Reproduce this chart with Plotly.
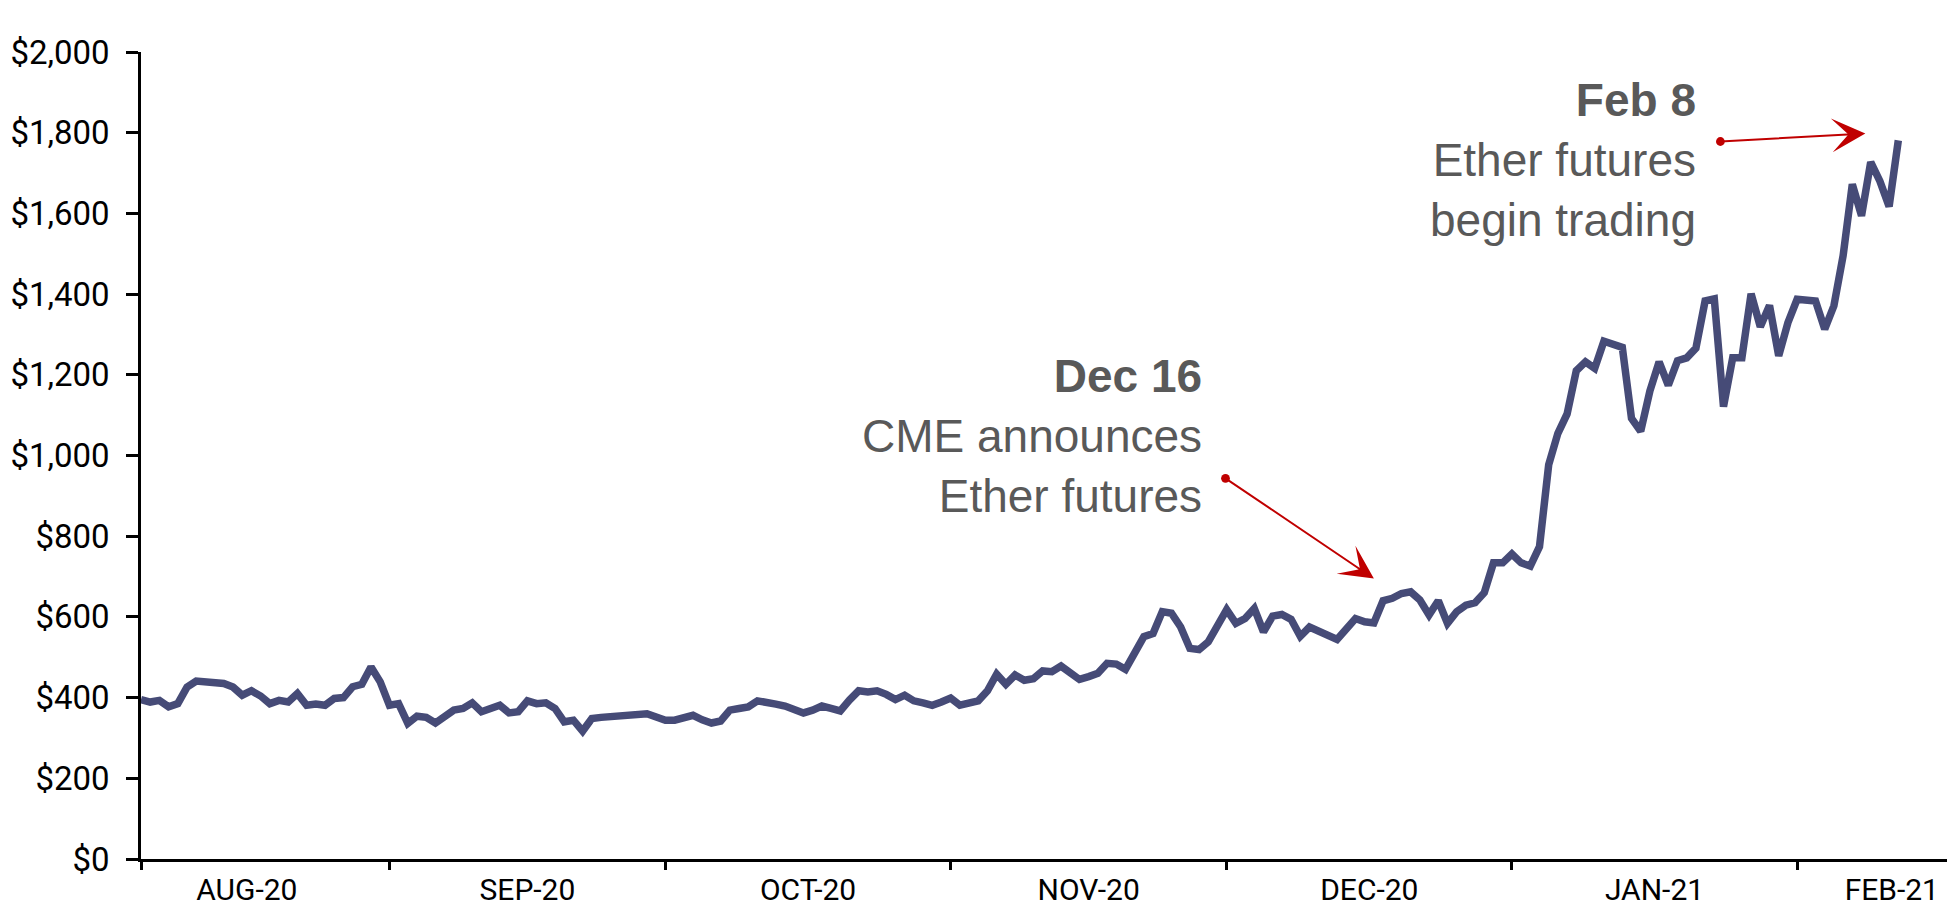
import pandas as pd
import plotly.graph_objects as go

# Ether price (USD), daily
START_DATE = "2020-08-05"
ETH_PRICE = [
    395, 389, 393, 377, 385, 426, 441, 438, 435, 435,
    426, 406, 417, 404, 385, 393, 389, 410, 381, 384,
    381, 398, 400, 427, 433, 476, 439, 381, 385, 336,
    354, 351, 337, 352, 369, 373, 387, 365, 374, 381,
    362, 365, 392, 385, 387, 373, 340, 344, 317, 348,
    351, 353, 357, 355, 359, 360, 352, 344, 344, 348,
    356, 345, 337, 342, 369, 373, 377, 392, 386, 384,
    379, 372, 362, 369, 379, 373, 367, 394, 417, 414,
    417, 408, 395, 406, 392, 387, 381, 389, 399, 381,
    385, 392, 417, 458, 433, 456, 443, 447, 466, 464,
    478, 460, 445, 452, 460, 485, 483, 470, 510, 551,
    559, 613, 609, 575, 522, 519, 538, 578, 618, 584,
    596, 621, 563, 602, 606, 594, 552, 575, 566, 556,
    544, 570, 596, 588, 585, 640, 646, 658, 662, 642,
    605, 640, 584, 613, 629, 635, 660, 734, 734, 756,
    734, 726, 774, 977, 1055, 1103, 1210, 1232, 1216, 1283,
    1275, 1268, 1092, 1060, 1160, 1232, 1174, 1235, 1242, 1266,
    1383, 1388, 1121, 1242, 1242, 1401, 1319, 1372, 1247, 1329,
    1387, 1385, 1383, 1313, 1371, 1495, 1672, 1594, 1727, 1680,
    1617, 1781,
]

MONTH_STARTS = ["2020-08-01", "2020-09-01", "2020-10-01", "2020-11-01",
                "2020-12-01", "2021-01-01", "2021-02-01"]
MONTH_LABELS = ["AUG-20", "SEP-20", "OCT-20", "NOV-20", "DEC-20", "JAN-21", "FEB-21"]

LINE_COLOR = "#464b77"
NOTE_COLOR = "#595959"
ARROW_COLOR = "#c00000"

dates = pd.date_range(START_DATE, periods=len(ETH_PRICE), freq="D")
x0 = pd.Timestamp("2020-08-05")
x1 = pd.Timestamp("2021-02-17 07:00")

# month labels in the middle of each month, kept inside the axis
months = pd.to_datetime(MONTH_STARTS)
half = pd.Timedelta(days=6)
label_pos = []
for i, m in enumerate(months):
    nxt = months[i + 1] if i + 1 < len(months) else m + pd.offsets.MonthBegin(1)
    mid = m + (nxt - m) / 2
    label_pos.append(min(max(mid, x0 + half), x1 - half))
tick_marks = [x0] + list(months[1:])

fig = go.Figure()
fig.add_trace(
    go.Scatter(
        x=dates,
        y=ETH_PRICE,
        mode="lines",
        line=dict(color=LINE_COLOR, width=7.5),
        hoverinfo="x+y",
    )
)

note_font = dict(family="Liberation Sans, Arial, sans-serif", size=46, color=NOTE_COLOR)

fig.add_annotation(
    x="2020-11-28 12:00", y=1048, xref="x", yref="y",
    text="<b>Dec 16</b><br>CME announces<br>Ether futures",
    showarrow=False, xanchor="right", yanchor="middle", align="right",
    font=note_font,
)
fig.add_annotation(
    x="2021-01-21 06:00", y=1733, xref="x", yref="y",
    text="<b>Feb 8</b><br>Ether futures<br>begin trading",
    showarrow=False, xanchor="right", yanchor="middle", align="right",
    font=note_font,
)

arrows = [
    dict(x="2020-12-17 00:00", y=695, ax="2020-11-30 17:00", ay=946),
    dict(x="2021-02-08 10:00", y=1798, ax="2021-01-23 12:00", ay=1778),
]
for a in arrows:
    fig.add_annotation(
        x=a["x"], y=a["y"], ax=a["ax"], ay=a["ay"],
        xref="x", yref="y", axref="x", ayref="y",
        text="", showarrow=True,
        arrowhead=3, arrowsize=2.8, arrowwidth=2, arrowcolor=ARROW_COLOR,
        arrowside="end+start", startarrowhead=6, startarrowsize=1.1,
        standoff=0, startstandoff=0,
    )

y_font = dict(family="Roboto, Liberation Sans, sans-serif", size=33, color="black")
x_font = dict(family="Roboto, Liberation Sans, sans-serif", size=30, color="black")

fig.update_layout(
    width=1951,
    height=908,
    margin=dict(l=141, r=4, t=52, b=49),
    plot_bgcolor="white",
    paper_bgcolor="white",
    showlegend=False,
    xaxis=dict(
        type="date",
        range=[x0, x1],
        automargin=False,
        showgrid=False,
        zeroline=False,
        showline=True,
        linecolor="black",
        linewidth=2.5,
        tickmode="array",
        tickvals=label_pos,
        ticktext=MONTH_LABELS,
        ticks="",
        ticklabelstandoff=2,
        tickfont=x_font,
        minor=dict(
            tickmode="array",
            tickvals=tick_marks,
            ticks="outside",
            ticklen=8,
            tickwidth=2.5,
            tickcolor="black",
            showgrid=False,
        ),
    ),
    yaxis=dict(
        range=[0, 2000],
        dtick=200,
        tick0=0,
        automargin=False,
        tickprefix="$",
        tickformat=",d",
        showgrid=False,
        zeroline=False,
        showline=True,
        linecolor="black",
        linewidth=2.5,
        ticks="outside",
        ticklen=12,
        tickwidth=2.5,
        tickcolor="black",
        ticklabelstandoff=10,
        tickfont=y_font,
    ),
)

fig.write_html(
    "out.html",
    config={"displayModeBar": False},
    post_script="document.body.style.margin='0';document.body.style.overflow='hidden';",
)
